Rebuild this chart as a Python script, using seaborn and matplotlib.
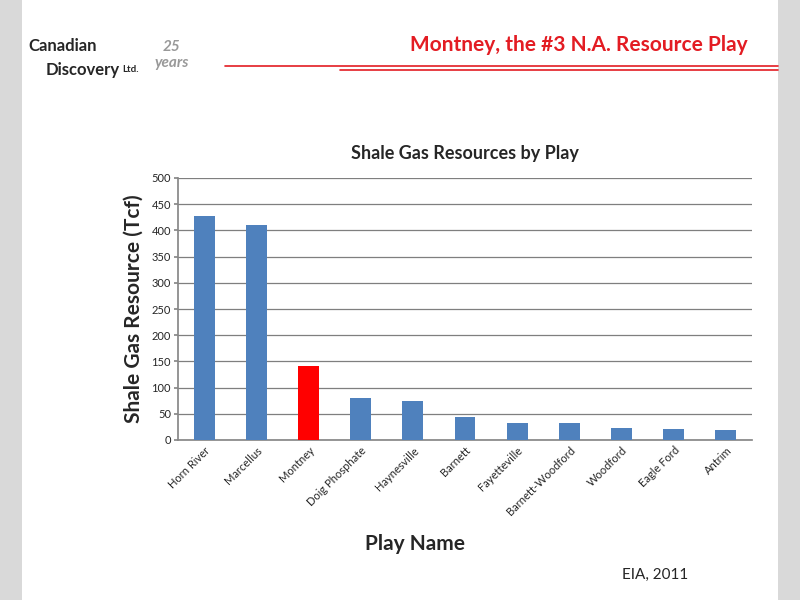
import matplotlib
matplotlib.use("Agg")
import matplotlib.pyplot as plt
import seaborn as sns
import pandas as pd

plays = ["Horn River", "Marcellus", "Montney", "Doig Phosphate", "Haynesville", "Barnett",
         "Fayetteville", "Barnett-Woodford", "Woodford", "Eagle Ford", "Antrim"]
resources = [428, 410, 141, 80, 75, 43, 32, 32, 22, 21, 20]
highlight = "Montney"

sns.set_theme(style="white")
plt.rcParams['font.family'] = ['Lato', 'DejaVu Sans']

df = pd.DataFrame({"play": plays, "tcf": resources})
colors = ["#ff0000" if p == highlight else "#4f81bd" for p in plays]

fig = plt.figure(figsize=(8, 6), dpi=100)
fig.patch.set_facecolor("#d9d9d9")
fig.add_artist(plt.Rectangle((22/800, 0), 756/800, 1, transform=fig.transFigure,
                             facecolor="white", edgecolor="none", zorder=0))

ax = fig.add_axes([178/800, 1-440/600, (752-178)/800, (440-178)/600])
sns.barplot(data=df, x="play", y="tcf", hue="play", palette=colors, legend=False,
            width=0.4, saturation=1, linewidth=0, ax=ax, zorder=3)
ax.set_ylim(0, 500)
ax.set_yticks(range(0, 501, 50))
ax.grid(axis="y", color="#7f7f7f", linewidth=0.9, zorder=0)
ax.set_axisbelow(True)
for s in ["top", "right"]:
    ax.spines[s].set_visible(False)
ax.spines["left"].set_color("#888888")
ax.spines["bottom"].set_color("#888888")
ax.tick_params(axis="y", labelsize=8, length=3, color="#888888", left=True, pad=2)
ax.tick_params(axis="x", labelsize=8, length=0)
plt.setp(ax.get_xticklabels(), rotation=45, ha="right", rotation_mode="anchor")
ax.set_xlabel("")
ax.set_ylabel("Shale Gas Resource (Tcf)", fontsize=15, fontweight="bold", labelpad=6)
ax.set_title("Shale Gas Resources by Play", fontsize=13, fontweight="bold", pad=14)
fig.text(415/800, 1-544/600, "Play Name", fontsize=15, fontweight="bold", ha="center", va="center")

fig.text(748/800, 1-45/600, "Montney, the #3 N.A. Resource Play", color="#e31c23",
         fontsize=15, fontweight="bold", ha="right", va="center")
fig.add_artist(plt.Line2D([225/800, 778/800], [1-66/600]*2, color="#e31c23", lw=1.2))
fig.add_artist(plt.Line2D([340/800, 778/800], [1-70/600]*2, color="#e31c23", lw=1.2))
fig.text(97/800, 1-46/600, "Canadian", fontsize=12, fontweight="bold", ha="right", va="center")
fig.text(120/800, 1-70/600, "Discovery", fontsize=12, fontweight="bold", ha="right", va="center")
fig.text(122/800, 1-70/600, "Ltd.", fontsize=7, fontweight="bold", ha="left", va="center")
fig.text(172/800, 1-55/600, "25\nyears", fontsize=11, color="#999999", style="italic",
         ha="center", va="center", fontweight="bold")
fig.text(655/800, 1-575/600, "EIA, 2011", fontsize=11, ha="center", va="center")

fig.savefig("out.png", dpi=100, facecolor=fig.get_facecolor())
